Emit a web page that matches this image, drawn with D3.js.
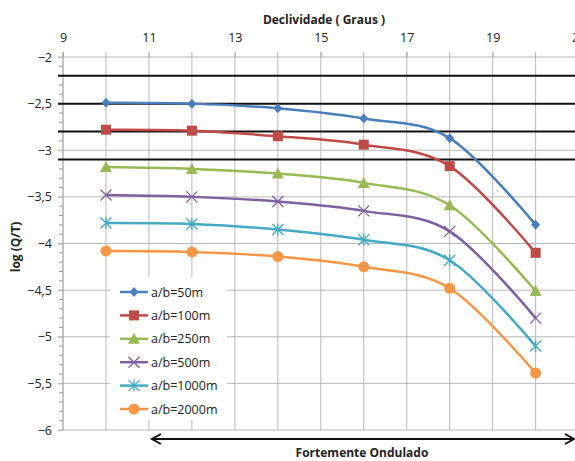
<!DOCTYPE html>
<html><head><meta charset="utf-8">
<script src="https://cdn.jsdelivr.net/npm/d3@7"></script>
<style>
html,body{margin:0;padding:0;background:#fff;overflow:hidden;}
text{font-family:"Open Sans",sans-serif;fill:#222;}
</style></head>
<body><svg id="c" width="575" height="461"></svg>
<script>
const xValues = [10, 12, 14, 16, 18, 20];
const seriesNames = ["a/b=50m", "a/b=100m", "a/b=250m", "a/b=500m", "a/b=1000m", "a/b=2000m"];
const s50   = [-2.49, -2.50, -2.55, -2.66, -2.87, -3.80];
const s100  = [-2.78, -2.79, -2.85, -2.94, -3.17, -4.10];
const s250  = [-3.18, -3.20, -3.25, -3.35, -3.59, -4.51];
const s500  = [-3.48, -3.50, -3.55, -3.65, -3.87, -4.80];
const s1000 = [-3.78, -3.79, -3.85, -3.96, -4.18, -5.10];
const s2000 = [-4.08, -4.09, -4.14, -4.25, -4.48, -5.39];
const refLines = [-2.2, -2.5, -2.8, -3.1];
const xTickLabels = [9, 11, 13, 15, 17, 19, 21];
const yTickValues = [-2, -2.5, -3, -3.5, -4, -4.5, -5, -5.5, -6];
const colors = ["#4a7ebb", "#be4b48", "#98b954", "#7d60a0", "#46aac5", "#f79646"];
const markers = ["diamond", "square", "triangle", "x", "star", "circle"];
const allSeries = [s50, s100, s250, s500, s1000, s2000];

const svg = d3.select("#c");
const x = d3.scaleLinear().domain([9, 21]).range([63, 578.6]);
const y = d3.scaleLinear().domain([-2, -6]).range([57, 430]);

const gridColor = "#b8b8b8";
const g = svg.append("g");
g.selectAll(".vg").data(d3.range(10, 22)).join("line")
  .attr("x1", d => x(d)).attr("x2", d => x(d))
  .attr("y1", y(-2) - 5).attr("y2", y(-6))
  .attr("stroke", gridColor).attr("stroke-width", 1);
g.selectAll(".hg").data(yTickValues).join("line")
  .attr("x1", x(9) - 5).attr("x2", 575)
  .attr("y1", d => y(d)).attr("y2", d => y(d))
  .attr("stroke", gridColor).attr("stroke-width", 1);

const topAxis = d3.axisTop(x).tickValues(xTickLabels).tickSize(5).tickFormat(d3.format("d"));
const ta = svg.append("g").attr("transform", `translate(0,${y(-2)})`).call(topAxis);
ta.select(".domain").remove();
ta.selectAll(".tick line").attr("stroke", gridColor);
ta.selectAll(".tick text").attr("font-family", "Open Sans").attr("font-size", 12.5).attr("fill", "#222").attr("dy", "-0.55em");

const leftAxis = d3.axisLeft(y).tickValues(yTickValues).tickSize(5)
  .tickFormat(d => d3.format("")(d).replace(".", ","));
const la = svg.append("g").attr("transform", `translate(${x(9)},0)`).call(leftAxis);
la.select(".domain").attr("stroke", "#8a8a8a").attr("d", `M0,${y(-2) - 5}V${y(-6)}`);
la.selectAll(".tick line").attr("stroke", gridColor);
la.selectAll(".tick text").attr("font-family", "Open Sans").attr("font-size", 12.5).attr("fill", "#222").attr("x", -11);
const minor = d3.range(-2, -6.0001, -0.1).filter(v => Math.abs(v * 2 - Math.round(v * 2)) > 1e-6);
svg.append("g").selectAll("line").data(minor).join("line")
  .attr("x1", x(9) - 4).attr("x2", x(9))
  .attr("y1", d => y(d)).attr("y2", d => y(d))
  .attr("stroke", "#9a9a9a").attr("stroke-width", 1);

svg.append("g").selectAll("line").data(refLines).join("line")
  .attr("x1", x(9) - 5).attr("x2", 575)
  .attr("y1", d => y(d)).attr("y2", d => y(d))
  .attr("stroke", "#111").attr("stroke-width", 2);

const line = d3.line().x((d, i) => x(xValues[i])).y(d => y(d)).curve(d3.curveCardinal.tension(0));

function drawMarker(sel, type, color) {
  if (type === "diamond") {
    sel.append("path").attr("d", "M0,-5L4.5,0L0,5L-4.5,0Z").attr("fill", color);
  } else if (type === "square") {
    sel.append("rect").attr("x", -5).attr("y", -5).attr("width", 10).attr("height", 10).attr("fill", color);
  } else if (type === "triangle") {
    sel.append("path").attr("d", "M0,-6L6,5L-6,5Z").attr("fill", color);
  } else if (type === "x") {
    sel.append("path").attr("d", "M-5.5,-5.5L5.5,5.5M-5.5,5.5L5.5,-5.5").attr("stroke", color).attr("stroke-width", 1.3).attr("fill", "none");
  } else if (type === "star") {
    sel.append("path").attr("d", "M-5.5,-5.5L5.5,5.5M-5.5,5.5L5.5,-5.5M0,-6V6").attr("stroke", color).attr("stroke-width", 1.3).attr("fill", "none");
  } else if (type === "circle") {
    sel.append("circle").attr("r", 5.5).attr("fill", color);
  }
}

allSeries.forEach((s, k) => {
  svg.append("path").datum(s).attr("d", line).attr("fill", "none")
    .attr("stroke", colors[k]).attr("stroke-width", 2.5);
  s.forEach((v, i) => {
    const m = svg.append("g").attr("transform", `translate(${x(xValues[i])},${y(v)})`);
    drawMarker(m, markers[k], colors[k]);
  });
});

const lg = svg.append("g");
lg.append("rect").attr("x", 110).attr("y", 277).attr("width", 117).attr("height", 143).attr("fill", "#fff");
seriesNames.forEach((name, k) => {
  const yy = 292 + k * 23.4;
  lg.append("line").attr("x1", 120).attr("x2", 148).attr("y1", yy).attr("y2", yy)
    .attr("stroke", colors[k]).attr("stroke-width", 2.5);
  const m = lg.append("g").attr("transform", `translate(134,${yy})`);
  drawMarker(m, markers[k], colors[k]);
  lg.append("text").attr("x", 151).attr("y", yy).attr("dy", "0.36em")
    .attr("font-size", 12.5).text(name);
});

svg.append("text").attr("x", 324).attr("y", 24).attr("text-anchor", "middle")
  .attr("font-weight", "bold").attr("font-size", 12).text("Declividade ( Graus )");
svg.append("text").attr("transform", "translate(20,247) rotate(-90)").attr("text-anchor", "middle")
  .attr("font-weight", "bold").attr("font-size", 12).text("log (Q/T)");

const ay = 439;
const ax0 = x(11.07);
svg.append("line").attr("x1", ax0).attr("x2", 574).attr("y1", ay).attr("y2", ay)
  .attr("stroke", "#111").attr("stroke-width", 2);
svg.append("path").attr("d", `M${ax0 + 9},${ay - 5}L${ax0},${ay}L${ax0 + 9},${ay + 5}`)
  .attr("stroke", "#111").attr("stroke-width", 2).attr("fill", "none");
svg.append("path").attr("d", `M${574 - 9},${ay - 5}L574,${ay}L${574 - 9},${ay + 5}`)
  .attr("stroke", "#111").attr("stroke-width", 2).attr("fill", "none");
svg.append("text").attr("x", 362).attr("y", 457).attr("text-anchor", "middle")
  .attr("font-weight", "bold").attr("font-size", 12).text("Fortemente Ondulado");
</script></body></html>
